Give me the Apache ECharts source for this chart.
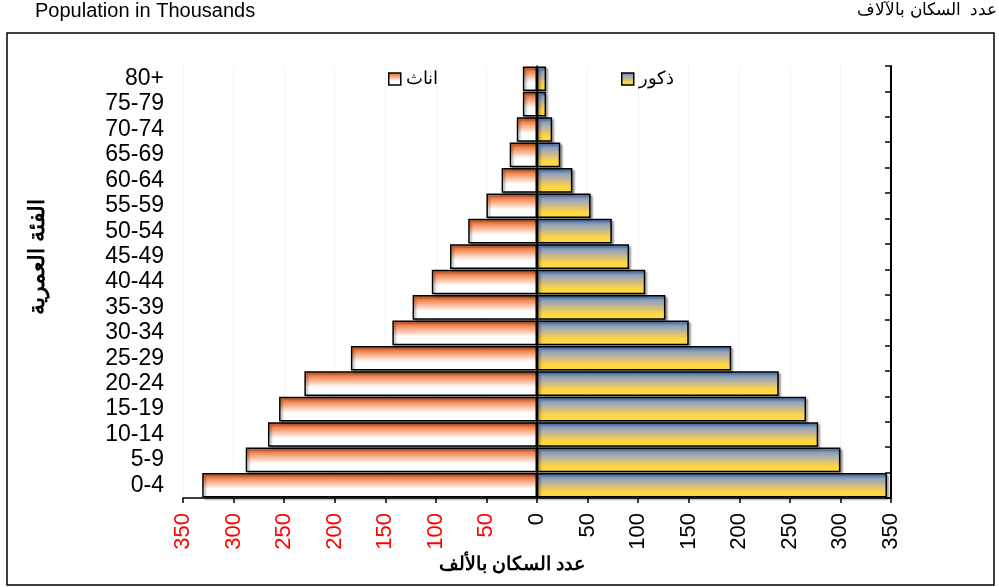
<!DOCTYPE html>
<html>
<head>
<meta charset="utf-8">
<script src="https://cdn.jsdelivr.net/npm/echarts@6/dist/echarts.min.js"></script>
<style>
  html, body { margin: 0; padding: 0; background: #fff; }
  #chart { width: 999px; height: 587px; }
</style>
</head>
<body>
<div id="chart"></div>
<script>
const ageGroups = ['0-4', '5-9', '10-14', '15-19', '20-24', '25-29', '30-34', '35-39',
  '40-44', '45-49', '50-54', '55-59', '60-64', '65-69', '70-74', '75-79', '80+'];
// thousands
const females = [331, 288, 266, 255, 230, 184, 143, 123, 104, 86, 68, 50, 35, 27, 20, 14, 14];
const males = [346, 300, 278, 266, 239, 192, 150, 127, 107, 91, 74, 53, 35, 23, 15, 9, 9];

const FONT = '"Liberation Sans", Arial, sans-serif';

const chart = echarts.init(document.getElementById('chart'), null, { renderer: 'canvas' });

const barShadow = {
  borderColor: '#000', borderWidth: 1.5,
  shadowColor: 'rgba(0,0,0,0.35)', shadowBlur: 2, shadowOffsetX: 2, shadowOffsetY: 2,
};

const femaleFill = new echarts.graphic.LinearGradient(0, 0, 0, 1, [
  { offset: 0, color: '#ee6622' },
  { offset: 0.25, color: '#f4905f' },
  { offset: 0.65, color: '#ffffff' },
  { offset: 1, color: '#ffffff' },
]);
const maleFill = new echarts.graphic.LinearGradient(0, 0, 0, 1, [
  { offset: 0, color: '#5a8edc' },
  { offset: 0.45, color: '#c3b598' },
  { offset: 0.75, color: '#ffd640' },
  { offset: 1, color: '#ffda4d' },
]);

const legendBase = {
  top: 70, padding: 0, itemWidth: 12, itemHeight: 12, icon: 'rect',
  itemStyle: { borderColor: '#000', borderWidth: 1.5, shadowBlur: 0, shadowOffsetX: 0, shadowOffsetY: 0 },
  textStyle: { fontFamily: FONT, fontSize: 18, color: '#000' },
};

chart.setOption({
  animation: false,
  grid: { left: 183, right: 108, top: 66, bottom: 89 },
  legend: [
    Object.assign({ data: ['اناث'], left: 388 }, legendBase),
    Object.assign({ data: ['ذكور'], left: 621 }, legendBase),
  ],
  xAxis: {
    type: 'value', min: -350, max: 350, interval: 50,
    axisLine: { show: true, lineStyle: { color: '#000', width: 1.5 } },
    axisTick: { show: true, length: 5, lineStyle: { color: '#000', width: 1.5 } },
    splitLine: { show: true, lineStyle: { color: '#f3f3f3', width: 1 } },
    axisLabel: {
      rotate: 90, margin: 15, fontFamily: FONT, fontSize: 22,
      color: v => (v < 0 ? '#ff0000' : '#000'),
      formatter: v => String(Math.abs(v)),
    },
  },
  yAxis: [
    {
      type: 'category', data: ageGroups, position: 'left',
      axisLine: { show: true, lineStyle: { color: '#000', width: 1.5 } },
      axisTick: { show: false },
      axisLabel: { interval: 0, fontFamily: FONT, fontSize: 23, color: '#000', margin: 19 },
    },
    {
      type: 'category', data: ageGroups, position: 'right',
      axisLine: { show: true, lineStyle: { color: '#000', width: 2 } },
      axisTick: { show: true, inside: true, length: 6, lineStyle: { color: '#000', width: 1.5 } },
      axisLabel: { show: false },
    },
  ],
  series: [
    {
      name: 'اناث', type: 'bar', stack: 'pop', barCategoryGap: '3%',
      data: females.map(v => -v),
      itemStyle: Object.assign({ color: femaleFill }, barShadow),
    },
    {
      name: 'ذكور', type: 'bar', stack: 'pop', barCategoryGap: '3%',
      data: males,
      itemStyle: Object.assign({ color: maleFill }, barShadow),
    },
  ],
  graphic: [
    { type: 'rect', shape: { x: 7, y: 33, width: 987, height: 552 }, silent: true,
      style: { fill: 'none', stroke: '#000', lineWidth: 1.5 } },
    { type: 'text', left: 35, top: 1,
      style: { text: 'Population in Thousands', font: '20px ' + FONT, fill: '#000' } },
    { type: 'text', right: 2, top: 2,
      style: { text: 'عدد  السكان بالآلاف', font: '17px ' + FONT, fill: '#000' } },
    { type: 'text', x: 512, y: 565,
      style: { text: 'عدد السكان بالألف', font: 'bold 19px ' + FONT, fill: '#000',
        align: 'center', verticalAlign: 'middle' } },
    { type: 'text', x: 38, y: 257, rotation: Math.PI / 2,
      style: { text: 'الفئة العمرية', font: 'bold 22px ' + FONT, fill: '#000',
        align: 'center', verticalAlign: 'middle' } },
  ],
});
</script>
</body>
</html>
